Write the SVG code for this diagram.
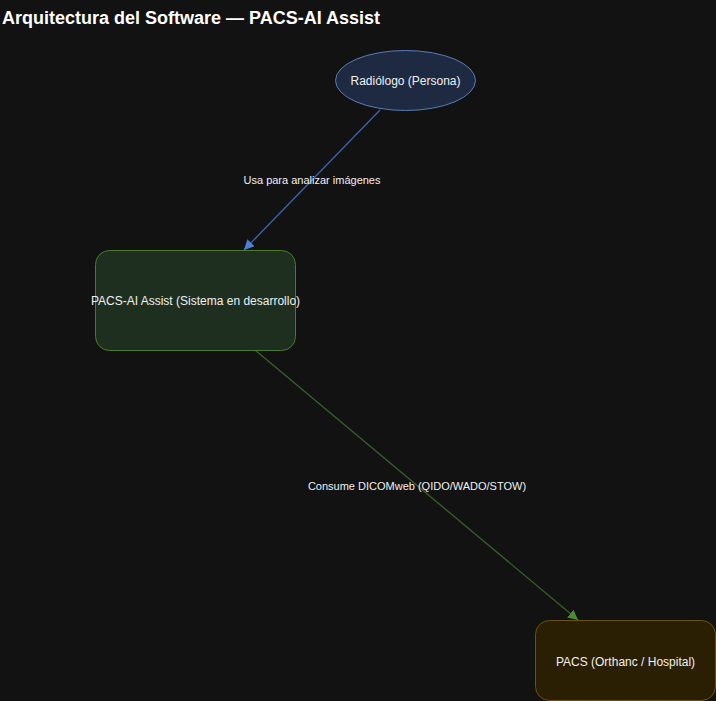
<svg xmlns="http://www.w3.org/2000/svg" width="716" height="701" viewBox="0 0 716 701">
<defs>
<style>
.t{font-family:"Liberation Sans",Arial,sans-serif;fill:#f0f0f0;text-anchor:middle}
.n{font-size:12px}
.l{font-size:11px}
</style>
<marker id="ab" viewBox="0 0 10 10" refX="10" refY="5" markerWidth="10" markerHeight="10" markerUnits="userSpaceOnUse" orient="auto"><path d="M0,0L10,5L0,10z" fill="#4a80d8"/></marker>
<marker id="ag" viewBox="0 0 10 10" refX="10" refY="5" markerWidth="10" markerHeight="10" markerUnits="userSpaceOnUse" orient="auto"><path d="M0,0L10,5L0,10z" fill="#4a8a30"/></marker>
</defs>
<rect width="716" height="701" fill="#121212"/>
<text x="2" y="24" font-family="Liberation Sans,Arial,sans-serif" font-size="18" font-weight="bold" fill="#ffffff">Arquitectura del Software — PACS-AI Assist</text>
<g id="connectors">
<line x1="380" y1="110" x2="244" y2="250" stroke="#3c64a8" stroke-width="1.3" marker-end="url(#ab)"/>
<line x1="255" y1="350" x2="578" y2="620" stroke="#36622a" stroke-width="1.3" marker-end="url(#ag)"/>
<text class="t l" x="312" y="184">Usa para analizar imágenes</text>
<text class="t l" x="417" y="490">Consume DICOMweb (QIDO/WADO/STOW)</text>
</g>
<g id="radiologo">
<ellipse cx="405.5" cy="80.5" rx="70" ry="30" fill="#1e2a42" stroke="#5a7cb4" stroke-width="1"/>
<text class="t n" x="405.5" y="85">Radiólogo (Persona)</text>
</g>
<g id="pacs-ai">
<rect x="95.5" y="250.5" width="200" height="100" rx="14" fill="#1f2f1f" stroke="#4a7a2a" stroke-width="1"/>
<text class="t n" x="195.5" y="305">PACS-AI Assist (Sistema en desarrollo)</text>
</g>
<g id="pacs">
<rect x="535.5" y="620.5" width="180" height="80" rx="14" fill="#2a1f02" stroke="#6a5212" stroke-width="1"/>
<text class="t n" x="625.5" y="666">PACS (Orthanc / Hospital)</text>
</g>
</svg>
